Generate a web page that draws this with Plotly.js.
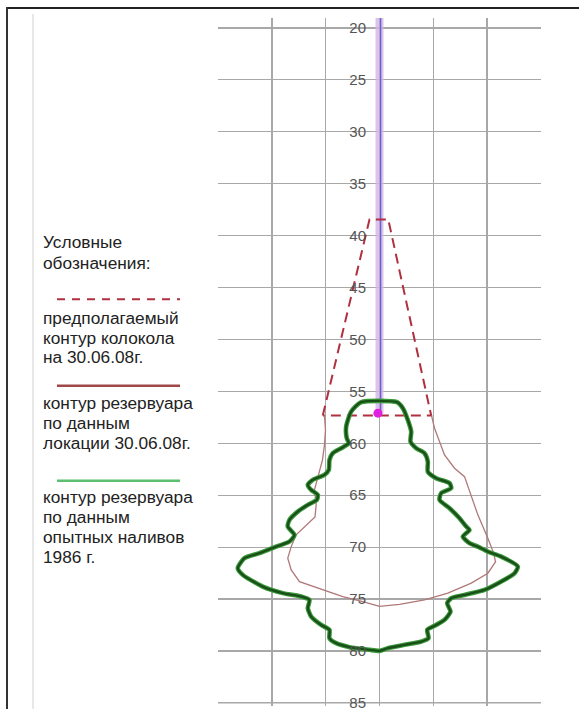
<!DOCTYPE html>
<html><head><meta charset="utf-8">
<script src="https://cdn.plot.ly/plotly-3.0.1.min.js"></script>
<style>
html,body{margin:0;padding:0;background:#fff;overflow:hidden;}
#wrap{position:relative;width:579px;height:709px;}
#chart{position:absolute;left:0;top:0;width:579px;height:709px;}
.fr{position:absolute;pointer-events:none;}
</style>
</head><body><div id="wrap"><div id="chart"></div>
<div class="fr" style="left:6px;top:7px;width:573px;height:2px;background:#222;"></div>
<div class="fr" style="left:6px;top:7px;width:2px;height:702px;background:#333;"></div>
<div class="fr" style="left:32px;top:14px;width:2px;height:695px;background:#e8e8e8;"></div>
</div><script>
// Depth tick labels (reversed vertical axis)
const depthTicks = [20,25,30,35,40,45,50,55,60,65,70,75,80,85];
// Green contour: reservoir by test fillings 1986
const greenX = [-0.341,-0.527,-0.620,-0.609,-0.571,-0.713,-0.869,-0.931,-0.944,-1.024,-1.241,-1.334,-1.271,-1.148,-1.167,-1.334,-1.521,-1.675,-1.707,-1.582,-1.675,-1.923,-2.233,-2.513,-2.637,-2.544,-2.172,-1.800,-1.457,-1.303,-1.334,-1.271,-1.085,-0.931,-0.931,-0.806,-0.558,-0.186,0,0.154,0.465,0.776,0.912,0.888,1.024,1.210,1.321,1.260,1.334,1.582,1.954,2.265,2.513,2.574,2.265,2.016,1.830,1.675,1.550,1.675,1.614,1.489,1.303,1.117,1.148,1.334,1.303,1.055,0.899,0.899,0.838,0.683,0.577,0.590,0.527,0.434,0.326,-0.341];
const greenY = [56.04,56.95,58.39,59.51,59.99,60.47,60.95,61.60,62.56,63.04,63.52,64.01,64.49,64.97,65.45,65.93,66.58,67.38,68.02,68.82,69.46,69.95,70.58,71.06,72.03,72.67,73.80,74.43,74.76,75.08,75.88,76.69,77.49,77.97,78.77,79.25,79.63,79.89,79.99,79.73,79.41,79.10,78.77,77.97,77.58,77.00,76.21,75.40,74.92,74.60,74.12,73.32,72.51,71.87,70.91,70.43,69.95,69.62,68.98,68.34,68.02,67.21,66.25,65.45,64.80,64.32,63.84,63.36,62.73,61.76,60.95,60.47,59.84,58.87,57.75,56.62,56.04,56.04];
// Brown contour: reservoir by location data 30.06.08
const brownX = [-1.024,-1.005,-1.024,-1.061,-1.135,-1.210,-1.178,-1.200,-1.551,-1.643,-1.707,-1.643,-1.489,-1.055,-0.683,-0.311,0,0.372,0.838,1.271,1.707,2.016,2.159,2.122,2.016,1.830,1.707,1.582,1.396,1.210,1.024,0.968];
const brownY = [57.33,58.71,60.15,61.60,63.04,64.49,65.93,67.09,68.82,69.95,71.06,72.19,73.32,74.12,74.76,75.24,75.71,75.51,75.08,74.43,73.47,72.51,71.42,70.55,69.14,66.89,64.97,63.21,62.40,61.12,58.55,57.33];
// Dashed: assumed bell contour 30.06.08
const bellX = [-1.055,-0.186,-0.186,0.173,0.173,0.962,-1.055];
const bellY = [57.33,38.68,38.44,38.44,38.68,57.33,57.33];
// Probe / well line and its bottom point
const probeX = [0,0];
const probeY = [19.04,57.1];
const pointX = [-0.03];
const pointY = [57.1];

const legendTexts = [
  ["Условные","обозначения:"],
  ["предполагаемый","контур колокола","на 30.06.08г."],
  ["контур резервуара","по данным","локации 30.06.08г."],
  ["контур резервуара","по данным","опытных наливов","1986 г."]
];

// pixel -> paper helpers for decorations (plot area 218..541 x 18..706)
const L=218, R=38, T=18, B=3, W=579-L-R, H=709-T-B;
const px = v => (v-L)/W;
const py = v => (709-B-v)/H;

const FONT = 'Arial, "Liberation Sans", sans-serif';
const GRID = '#a8a8a8';

const traces = [
  {x:probeX, y:probeY, mode:'lines', line:{color:'rgba(212,180,230,0.8)', width:8}, hoverinfo:'skip', showlegend:false},
  {x:probeX.map(v=>v+0.02), y:probeY, mode:'lines', line:{color:'#6464cc', width:1.5}, hoverinfo:'skip', showlegend:false},
  {x:bellX, y:bellY, mode:'lines', line:{color:'#b03040', width:2, dash:'10px,6px'}, name:'предполагаемый контур колокола', showlegend:false},
  {x:brownX, y:brownY, mode:'lines', line:{color:'#b07878', width:1.3}, name:'контур резервуара по данным локации', showlegend:false},
  {x:greenX, y:greenY, mode:'lines', line:{color:'#3a9a3a', width:4.6, shape:'spline', smoothing:0.6}, hoverinfo:'skip', showlegend:false},
  {x:greenX, y:greenY, mode:'lines', line:{color:'#1a4f1a', width:2.4, shape:'spline', smoothing:0.6}, name:'контур резервуара 1986', showlegend:false},
  {x:pointX, y:pointY, mode:'markers', marker:{color:'#e020e0', size:9, symbol:'circle'}, showlegend:false}
];

const annotations = [];
const lineYs = [[241.7,263.3],[318.3,338.3,357.3],[403.3,423.3,442.7],[497.3,517.3,537.3,556.7]];
legendTexts.forEach((blk,i)=>blk.forEach((t,j)=>{
  annotations.push({xref:'paper', yref:'paper', x:px(40.5), y:py(lineYs[i][j]), xanchor:'left', yanchor:'middle',
    text:t, showarrow:false, font:{family:FONT, size:17.3, color:'#222'}});
}));

const shapes = [
  // bottom grid line at the last depth tick
  {type:'line', xref:'paper', yref:'y', x0:0, x1:1, y0:depthTicks[depthTicks.length-1], y1:depthTicks[depthTicks.length-1], line:{color:GRID, width:1.2}, layer:'below'},
  // legend keys
  {type:'line', xref:'paper', yref:'paper', x0:px(57), x1:px(180), y0:py(299.3), y1:py(299.3), line:{color:'#b03040', width:2, dash:'8px,7px'}},
  {type:'line', xref:'paper', yref:'paper', x0:px(57), x1:px(180), y0:py(385.7), y1:py(385.7), line:{color:'#a04848', width:2.5}},
  {type:'line', xref:'paper', yref:'paper', x0:px(57), x1:px(180), y0:py(480.7), y1:py(480.7), line:{color:'#5cc070', width:2.5}}
];

const layout = {
  width:579, height:709,
  margin:{l:L, r:R, t:T, b:B, pad:0},
  paper_bgcolor:'rgba(0,0,0,0)', plot_bgcolor:'#fff',
  showlegend:false,
  xaxis:{range:[-3.005,3.005], tickmode:'linear', tick0:0, dtick:1, showticklabels:false, ticks:'',
    showgrid:true, gridcolor:GRID, gridwidth:1.2, zeroline:false, showline:false},
  yaxis:{range:[85.3,19.04], tickmode:'array', tickvals:depthTicks, ticktext:depthTicks.map(String),
    anchor:'free', position:(380-L)/W, side:'left', ticks:'', ticklabelstandoff:14, ticklabeloverflow:'allow',
    tickfont:{family:FONT, size:15, color:'#555'},
    showgrid:true, gridcolor:GRID, gridwidth:1.2, zeroline:false, showline:false},
  annotations, shapes
};

Plotly.newPlot('chart', traces, layout, {staticPlot:true, displayModeBar:false});
</script></body></html>
